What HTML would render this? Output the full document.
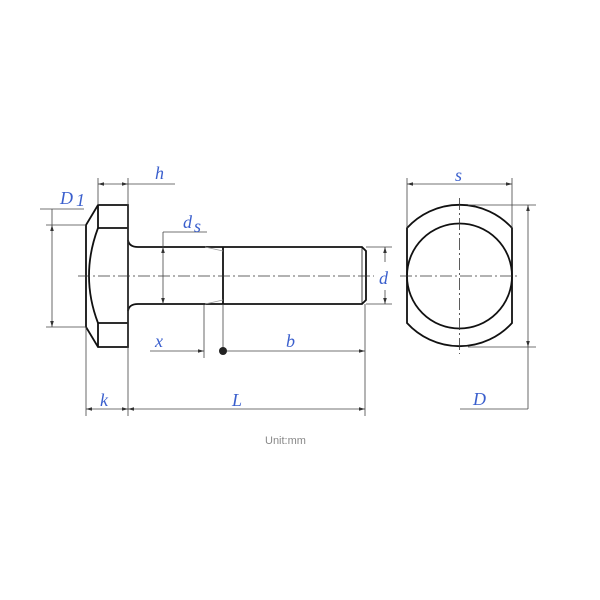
<!DOCTYPE html>
<html><head><meta charset="utf-8"><style>
html,body{margin:0;padding:0;background:#fff;width:600px;height:600px;overflow:hidden}
text.l{font-family:"Liberation Serif",serif;font-style:italic;font-size:18px;fill:#3a5fcd}
</style></head><body>
<svg width="600" height="600" viewBox="0 0 600 600" xmlns="http://www.w3.org/2000/svg">
<defs>
<marker id="a" viewBox="0 0 10 10" refX="10" refY="5" markerWidth="9" markerHeight="6" markerUnits="userSpaceOnUse" orient="auto-start-reverse"><path d="M0,2 L10,5 L0,8z" fill="#333"/></marker>
</defs>
<g fill="none" stroke="#111" stroke-width="1.8">
<path d="M98,205 L128,205 L128,347 L98,347 L86,327 L86,225 Z"/>
<line x1="98" y1="205" x2="98" y2="228"/>
<line x1="98" y1="323" x2="98" y2="347"/>
<line x1="98" y1="228" x2="128" y2="228"/>
<line x1="98" y1="323" x2="128" y2="323"/>
<path d="M98,228 Q80,276 98,323"/>
<path d="M128,240 Q129,247 138,247 L362,247 L366,251 L366,300 L362,304 L138,304 Q129,304 128,311"/>
<line x1="223" y1="247" x2="223" y2="304"/>
<line x1="362" y1="247" x2="362" y2="304" stroke-width="0.8"/>
<path d="M407,228 A71,71 0 0 1 512,228 L512,323 A71,71 0 0 1 407,323 Z"/>
<circle cx="459.5" cy="276" r="52.5"/>
</g>
<g stroke="#999" stroke-width="0.7" fill="none">
<path d="M205,247 L223,251 M205,304 L223,300"/>
</g>
<g stroke="#333" stroke-width="0.8" stroke-dasharray="12,3,2,3" fill="none">
<line x1="78" y1="276" x2="374" y2="276"/>
<line x1="400" y1="276" x2="520" y2="276"/>
<line x1="459.5" y1="198" x2="459.5" y2="354"/>
</g>
<g stroke="#444" stroke-width="0.8" fill="none">
<line x1="98" y1="178" x2="98" y2="205"/>
<line x1="128" y1="178" x2="128" y2="416"/>
<line x1="98" y1="184" x2="128" y2="184" marker-start="url(#a)" marker-end="url(#a)"/>
<line x1="128" y1="184" x2="175" y2="184"/>
<line x1="40" y1="209" x2="84" y2="209"/>
<line x1="52" y1="209" x2="52" y2="225"/>
<line x1="46" y1="225" x2="86" y2="225"/>
<line x1="46" y1="327" x2="86" y2="327"/>
<line x1="52" y1="225" x2="52" y2="327" marker-start="url(#a)" marker-end="url(#a)"/>
<line x1="163" y1="232" x2="207" y2="232"/>
<line x1="163" y1="232" x2="163" y2="247"/>
<line x1="163" y1="247" x2="163" y2="304" marker-start="url(#a)" marker-end="url(#a)"/>
<line x1="366" y1="247" x2="392" y2="247"/>
<line x1="366" y1="304" x2="392" y2="304"/>
<line x1="385" y1="262" x2="385" y2="247" marker-end="url(#a)"/>
<line x1="385" y1="290" x2="385" y2="304" marker-end="url(#a)"/>
<line x1="204" y1="305" x2="204" y2="358"/>
<line x1="223" y1="304" x2="223" y2="351"/>
<line x1="150" y1="351" x2="204" y2="351" marker-end="url(#a)"/>
<line x1="223" y1="351" x2="365" y2="351" marker-end="url(#a)"/>
<line x1="365" y1="304" x2="365" y2="416"/>
<line x1="86" y1="327" x2="86" y2="416"/>
<line x1="86" y1="409" x2="128" y2="409" marker-start="url(#a)" marker-end="url(#a)"/>
<line x1="128" y1="409" x2="365" y2="409" marker-start="url(#a)" marker-end="url(#a)"/>
<line x1="407" y1="178" x2="407" y2="228"/>
<line x1="512" y1="178" x2="512" y2="228"/>
<line x1="407" y1="184" x2="512" y2="184" marker-start="url(#a)" marker-end="url(#a)"/>
<line x1="468" y1="205" x2="536" y2="205"/>
<line x1="468" y1="347" x2="536" y2="347"/>
<line x1="528" y1="205" x2="528" y2="347" marker-start="url(#a)" marker-end="url(#a)"/>
<line x1="528" y1="347" x2="528" y2="409"/>
<line x1="460" y1="409" x2="528" y2="409"/>
</g>
<circle cx="223" cy="351" r="4" fill="#222"/>
<text class="l" x="155" y="179">h</text>
<text class="l" x="60" y="204">D</text><text class="l" x="76" y="206" font-size="15">1</text>
<text class="l" x="183" y="228">d</text><text class="l" x="194" y="232" font-size="12">s</text>
<text class="l" x="379" y="284">d</text>
<text class="l" x="155" y="347">x</text>
<text class="l" x="286" y="347">b</text>
<text class="l" x="100" y="406">k</text>
<text class="l" x="232" y="406">L</text>
<text class="l" x="455" y="181">s</text>
<text class="l" x="473" y="405">D</text>
<text x="265" y="444" font-family="Liberation Sans, sans-serif" font-size="11" fill="#888">Unit:mm</text>
</svg>
</body></html>
